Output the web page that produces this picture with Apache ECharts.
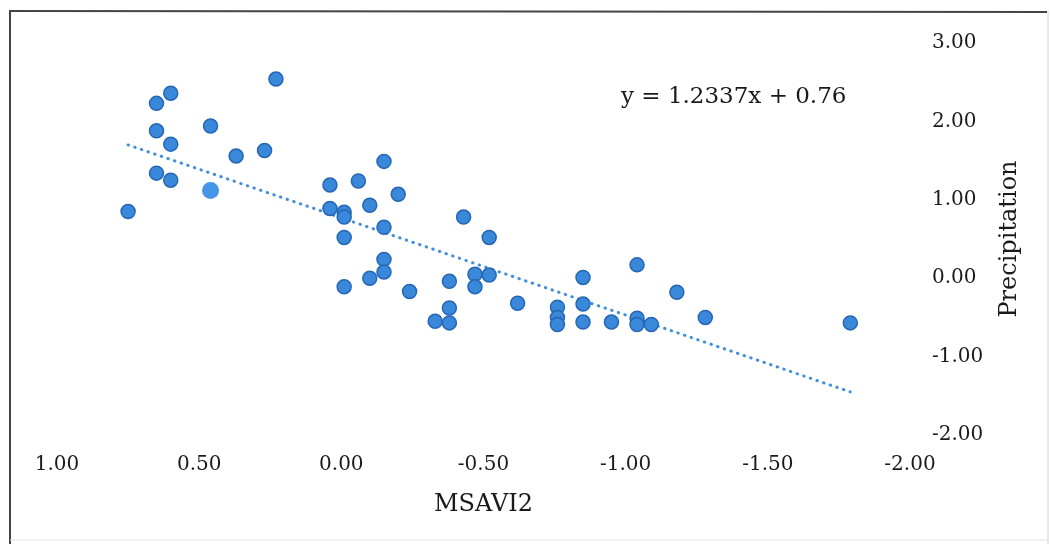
<!DOCTYPE html>
<html>
<head>
<meta charset="utf-8">
<script src="https://cdn.jsdelivr.net/npm/echarts@6/dist/echarts.min.js"></script>
<style>
html,body{margin:0;padding:0;background:#fff;}
#c{width:1051px;height:544px;}
</style>
</head>
<body>
<div id="c"></div>
<script>
// MSAVI2 (x) values
const msavi2 = [0.75,0.65,0.60,0.65,0.60,0.65,0.60,0.46,0.37,0.27,0.23,0.04,0.04,-0.01,-0.01,-0.01,-0.01,-0.06,-0.10,-0.10,-0.15,-0.15,-0.15,-0.15,-0.20,-0.24,-0.33,-0.38,-0.38,-0.38,-0.43,-0.47,-0.47,-0.52,-0.52,-0.62,-0.76,-0.76,-0.76,-0.85,-0.85,-0.85,-0.95,-1.04,-1.04,-1.04,-1.09,-1.18,-1.28,-1.79];
// Precipitation (y) values
const precip = [0.85,2.23,2.36,1.88,1.71,1.34,1.25,1.94,1.56,1.63,2.54,1.19,0.89,0.84,0.78,0.52,-0.11,1.24,0.93,0.00,1.49,0.65,0.24,0.08,1.07,-0.17,-0.55,-0.57,-0.38,-0.04,0.78,0.05,-0.11,0.04,0.52,-0.32,-0.37,-0.50,-0.59,0.01,-0.33,-0.56,-0.56,0.17,-0.51,-0.59,-0.59,-0.18,-0.50,-0.57];
// highlighted point
const highlightX = [0.46];
const highlightY = [1.12];
// trendline endpoints (x, y)
const trendX = [0.75, -1.79];
const trendY = [1.70, -1.45];
const equationText = 'y = 1.2337x + 0.76';
const xTicks = {min: -2, max: 1, interval: 0.5};
const yTicks = {min: -2, max: 3, interval: 1};

const pts = msavi2.map((x, i) => [x, precip[i]]);
const hl = highlightX.map((x, i) => [x, highlightY[i]]);
const trend = trendX.map((x, i) => [x, trendY[i]]);

const font = 'DejaVu Serif';
const txt = '#1a1a1a';
const chart = echarts.init(document.getElementById('c'), null, {renderer: 'canvas'});
chart.setOption({
  animation: false,
  backgroundColor: '#ffffff',
  grid: {left: 57, right: 141, top: 43, bottom: 109, containLabel: false},
  xAxis: {
    type: 'value', inverse: true,
    min: xTicks.min, max: xTicks.max, interval: xTicks.interval,
    name: 'MSAVI2', nameLocation: 'middle', nameGap: 58,
    nameTextStyle: {fontFamily: font, fontSize: 24, color: txt},
    axisLine: {show: false}, axisTick: {show: false}, splitLine: {show: false},
    axisLabel: {fontFamily: font, fontSize: 20, color: txt, margin: 20,
      formatter: v => v.toFixed(2)}
  },
  yAxis: {
    type: 'value', position: 'right',
    min: yTicks.min, max: yTicks.max, interval: yTicks.interval,
    name: 'Precipitation', nameLocation: 'middle', nameGap: 88, nameRotate: 90,
    nameTextStyle: {fontFamily: font, fontSize: 24, color: txt},
    axisLine: {show: false}, axisTick: {show: false}, splitLine: {show: false},
    axisLabel: {fontFamily: font, fontSize: 20, color: txt, margin: 22,
      formatter: v => v.toFixed(2)}
  },
  graphic: [
    {type: 'line', shape: {x1: 10, y1: 11, x2: 1047, y2: 12}, style: {stroke: '#444', lineWidth: 2}},
    {type: 'line', shape: {x1: 10, y1: 10, x2: 10, y2: 544}, style: {stroke: '#444', lineWidth: 2}},
    {type: 'line', shape: {x1: 1048, y1: 11, x2: 1048, y2: 544}, style: {stroke: '#d0d0d0', lineWidth: 1}},
    {type: 'line', shape: {x1: 10, y1: 540, x2: 1048, y2: 540}, style: {stroke: '#e4e4e4', lineWidth: 1}},
    {type: 'text', left: 621, top: 86, style: {text: equationText, fontFamily: font, fontSize: 23, fill: txt}}
  ],
  series: [
    {
      type: 'line', data: trend, symbol: 'none', z: 1,
      lineStyle: {color: '#3f8fe0', width: 3, type: [0.5, 6.5], cap: 'round'}
    },
    {
      type: 'scatter', data: pts, symbolSize: 14, z: 2,
      itemStyle: {color: '#3a88d9', borderColor: '#2566b5', borderWidth: 1.5, opacity: 1}
    },
    {
      type: 'scatter', data: hl, symbolSize: 17, z: 3,
      itemStyle: {color: '#4597e6', opacity: 1}
    }
  ]
});
</script>
</body>
</html>
